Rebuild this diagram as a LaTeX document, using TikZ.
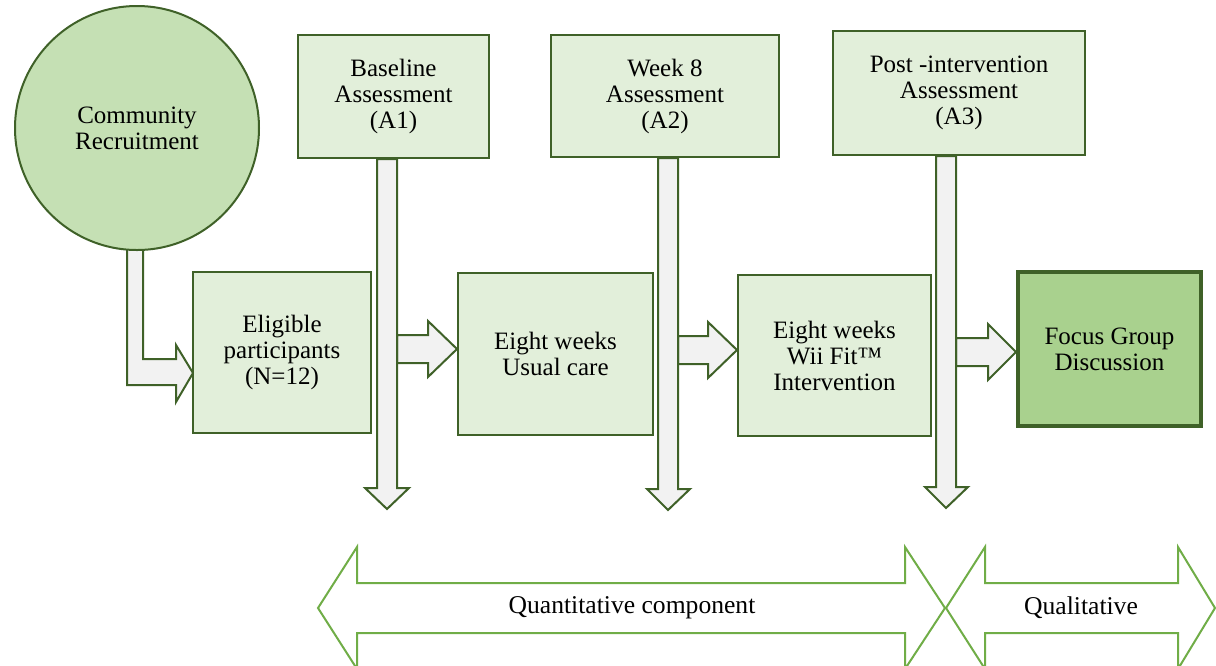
\documentclass[tikz,border=0pt]{standalone}
\usepackage{fontspec}
\setmainfont{Liberation Serif}
\usetikzlibrary{calc}
\definecolor{edge}{HTML}{3F6128}
\definecolor{boxfill}{HTML}{E2EFDA}
\definecolor{circfill}{HTML}{C5E0B4}
\definecolor{focusfill}{HTML}{A9D18E}
\definecolor{arrowfill}{HTML}{F2F2F2}
\definecolor{phase}{HTML}{70AD47}
\tikzset{
  stagebox/.style={draw=edge, line width=1pt, fill=boxfill, align=center,
    inner sep=0pt, font=\fontsize{12.5}{13}\selectfont},
  blockarrow/.style={draw=edge, line width=1pt, fill=arrowfill, line join=miter},
  phasearrow/.style={draw=phase, line width=1pt, fill=white, line join=miter},
  phaselabel/.style={font=\fontsize{12.8}{13}\selectfont, inner sep=0pt},
}
\begin{document}
\begin{tikzpicture}[x=0.5pt, y=-0.5pt]
\useasboundingbox (0,0) rectangle (1216,665);

% bent arrow from the recruitment circle into the eligible box
\draw[blockarrow] (127,247) -- (127,385) -- (176,385) -- (176,402) -- (193,373)
  -- (176,345) -- (176,359) -- (143,359) -- (143,247) -- cycle;

\node[stagebox, circle, fill=circfill, minimum size=122pt] (recruit) at (137,128)
  {Community\\Recruitment};

\node[stagebox, minimum width=89pt, minimum height=80.5pt] (eligible) at (282,352.5)
  {Eligible\\participants\\(N=12)};
\node[stagebox, minimum width=95.5pt, minimum height=61.5pt] (a1) at (393.5,96.5)
  {Baseline\\Assessment\\(A1)};
\node[stagebox, minimum width=97.5pt, minimum height=81pt] (usual) at (555.5,354)
  {Eight weeks\\Usual care};
\node[stagebox, minimum width=114pt, minimum height=61pt] (a2) at (665,96)
  {Week 8\\Assessment\\(A2)};
\node[stagebox, minimum width=96.5pt, minimum height=80.5pt] (wii) at (834.5,355.5)
  {Eight weeks\\Wii Fit™\\Intervention};
\node[stagebox, minimum width=126pt, minimum height=62pt] (a3) at (959,93)
  {Post -intervention\\Assessment\\(A3)};
\node[stagebox, line width=2pt, fill=focusfill, minimum width=91.5pt, minimum height=77pt]
  (focus) at (1109.5,349) {Focus Group\\Discussion};

% horizontal block arrows into the next stage
\draw[blockarrow] (397,335) -- (428,335) -- (428,321) -- (usual.west |- 0,349)
  -- (428,377) -- (428,363) -- (397,363) -- cycle;
\draw[blockarrow] (678,336) -- (708,336) -- (708,322) -- (wii.west |- 0,350)
  -- (708,378) -- (708,364) -- (678,364) -- cycle;
\draw[blockarrow] (956,338) -- (988,338) -- (988,324) -- (focus.west |- 0,352)
  -- (988,380) -- (988,366) -- (956,366) -- cycle;

% vertical block arrows hanging from the assessments
\draw[blockarrow] (377,0 |- a1.south) -- (377,488) -- (365,488) -- (387,509)
  -- (409,488) -- (397,488) -- (397,0 |- a1.south) -- cycle;
\draw[blockarrow] (658,0 |- a2.south) -- (658,489) -- (647,489) -- (668,510)
  -- (690,489) -- (678,489) -- (678,0 |- a2.south) -- cycle;
\draw[blockarrow] (936,0 |- a3.south) -- (936,487) -- (925,487) -- (946,508)
  -- (968,487) -- (956,487) -- (956,0 |- a3.south) -- cycle;

% study phases along the bottom
\draw[phasearrow] (318,608) -- (357,547) -- (357,583) -- (905,583) -- (905,547)
  -- (945,608) -- (905,669) -- (905,633) -- (357,633) -- (357,669) -- cycle;
\draw[phasearrow] (946,608) -- (985,547) -- (985,583) -- (1178,583) -- (1178,547)
  -- (1215,608) -- (1178,669) -- (1178,633) -- (985,633) -- (985,669) -- cycle;
\node[phaselabel] (quant) at (632,608) {Quantitative component};
\node[phaselabel] (qual) at (1081,608) {Qualitative};
\end{tikzpicture}
\end{document}
